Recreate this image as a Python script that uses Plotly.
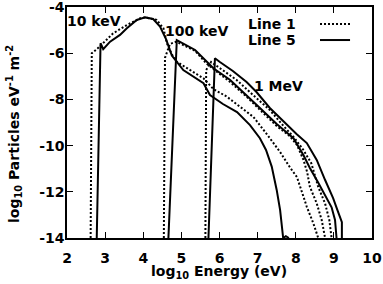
import plotly.graph_objects as go

# ---- data (log10 energy [eV], log10 particles eV^-1 m^-2) ----
x_10keV_l1 = [2.62, 2.65, 2.80, 2.95, 3.21, 3.57, 3.92, 4.05, 4.35, 4.53, 4.62, 4.75, 4.88, 5.23, 5.58, 5.84, 6.19, 6.54, 6.89, 7.24, 7.59, 7.85, 8.03, 8.11, 8.29, 8.46, 8.59]
y_10keV_l1 = [-14.0, -6.0, -5.80, -5.57, -5.14, -4.78, -4.49, -4.45, -4.56, -4.92, -5.57, -6.05, -6.37, -6.73, -7.09, -7.55, -7.88, -8.32, -8.76, -9.50, -10.28, -10.95, -11.36, -11.75, -12.65, -13.36, -14.0]

x_10keV_l5 = [2.78, 2.88, 2.95, 3.13, 3.39, 3.57, 3.83, 4.05, 4.26, 4.44, 4.60, 4.75, 5.05, 5.40, 5.58, 5.75, 6.09, 6.46, 6.80, 7.06, 7.22, 7.37, 7.50, 7.59, 7.63, 7.67, 7.74, 7.82]
y_10keV_l5 = [-14.0, -5.57, -5.83, -5.50, -5.21, -4.92, -4.56, -4.45, -4.52, -4.85, -5.40, -6.10, -6.73, -7.10, -7.30, -7.81, -8.20, -8.55, -9.11, -9.68, -10.19, -10.91, -11.92, -12.79, -13.51, -14.0, -13.92, -14.0]

x_100keV_l1 = [4.54, 4.57, 4.70, 4.87, 5.36, 5.66, 6.28, 6.71, 7.06, 7.50, 7.85, 8.03, 8.20, 8.30, 8.37, 8.55, 8.68, 8.77]
y_100keV_l1 = [-14.0, -6.2, -5.6, -5.5, -5.9, -6.45, -7.25, -7.88, -8.45, -9.15, -9.6, -9.97, -10.61, -11.15, -11.78, -12.50, -13.22, -14.0]

x_100keV_l5 = [4.66, 4.88, 5.36, 5.66, 5.84, 6.28, 6.71, 7.06, 7.50, 7.94, 8.20, 8.37, 8.58, 8.76, 8.94, 9.03, 9.07]
y_100keV_l5 = [-14.0, -5.43, -5.86, -6.37, -6.65, -7.16, -7.81, -8.37, -9.06, -9.68, -10.41, -10.97, -11.58, -12.10, -12.67, -13.22, -14.0]

x_1MeV_l1 = [5.63, 5.65, 5.78, 6.01, 6.45, 6.88, 7.32, 7.66, 7.97, 8.20, 8.41, 8.59, 8.77, 8.88, 8.94]
y_1MeV_l1 = [-14.0, -6.73, -6.38, -6.64, -7.16, -7.81, -8.46, -9.11, -9.68, -10.19, -10.77, -11.79, -12.51, -13.22, -14.0]

x_1MeV_l5 = [5.71, 5.88, 6.01, 6.35, 6.71, 6.97, 7.32, 7.66, 8.02, 8.29, 8.55, 8.77, 8.98, 9.11, 9.21, 9.21]
y_1MeV_l5 = [-14.0, -6.22, -6.38, -6.77, -7.25, -7.68, -8.37, -8.94, -9.50, -9.89, -10.62, -11.49, -12.27, -12.87, -13.31, -14.0]

x_ticks = [2, 3, 4, 5, 6, 7, 8, 9, 10]
y_ticks = [-4, -6, -8, -10, -12, -14]
y_tick_labels = ["-4", "-6", "-8", "-10", "-12", "-14"]

curve_labels = ["10 keV", "100 keV", "1 MeV"]
curve_label_x = [2.71, 5.40, 7.56]
curve_label_y = [-4.61, -5.05, -7.44]

series_names = ["Line 1", "Line 5"]
x_title = "log<sub>10</sub> Energy (eV)"
y_title = "log<sub>10</sub> Particles eV<sup>-1</sup> m<sup>-2</sup>"

FONT = dict(family="DejaVu Sans", size=14, color="black", weight="bold")
DOT = "2px,2px"

fig = go.Figure()
pairs = [
    (x_10keV_l1, y_10keV_l1, DOT), (x_10keV_l5, y_10keV_l5, "solid"),
    (x_100keV_l1, y_100keV_l1, DOT), (x_100keV_l5, y_100keV_l5, "solid"),
    (x_1MeV_l1, y_1MeV_l1, DOT), (x_1MeV_l5, y_1MeV_l5, "solid"),
]
for xs, ys, dash in pairs:
    fig.add_trace(go.Scatter(x=xs, y=ys, mode="lines", showlegend=False,
                             line=dict(color="black", width=2, dash=dash),
                             cliponaxis=True))

for t, xx, yy in zip(curve_labels, curve_label_x, curve_label_y):
    fig.add_annotation(x=xx, y=yy, text=t, showarrow=False, font=FONT,
                       xanchor="center", yanchor="middle")

# key (gnuplot style: text then sample)
key_y = [0.926, 0.857]
key_dash = [DOT, "solid"]
for name, ky, dash in zip(series_names, key_y, key_dash):
    fig.add_annotation(xref="paper", yref="paper", x=0.756, y=ky, text=name,
                       showarrow=False, font=FONT, xanchor="right", yanchor="middle")
    fig.add_shape(type="line", xref="paper", yref="paper", x0=0.8295, x1=0.928,
                  y0=ky, y1=ky, line=dict(color="black", width=2, dash=dash))

# axis titles
fig.add_annotation(xref="paper", yref="paper", x=0.498, y=-0.147, text=x_title,
                   showarrow=False, font=FONT, xanchor="center", yanchor="middle")
fig.add_annotation(xref="paper", yref="paper", x=-0.174, y=0.45, text=y_title,
                   showarrow=False, font=FONT, xanchor="center", yanchor="middle",
                   textangle=-90)

axis_common = dict(showline=True, linecolor="black", linewidth=1.5, mirror="allticks",
                   ticks="inside", ticklen=6, tickwidth=1, tickcolor="black",
                   showgrid=False, zeroline=False, tickfont=FONT, automargin=False,
                   ticklabeloverflow="allow")

fig.update_xaxes(range=[2, 10], tickvals=x_ticks, ticklabelstandoff=6, **axis_common)
fig.update_yaxes(range=[-14, -4], tickvals=y_ticks, ticktext=y_tick_labels,
                 ticklabelstandoff=-2, **axis_common)

fig.update_layout(width=383, height=284, margin=dict(l=67, r=11, t=7, b=46, autoexpand=False),
                  plot_bgcolor="white", paper_bgcolor="white", showlegend=False)

fig.write_html("out.html", config={"displayModeBar": False},
               post_script="document.body.style.margin='0';document.body.style.padding='0';"
                           "document.documentElement.style.overflow='hidden';")
